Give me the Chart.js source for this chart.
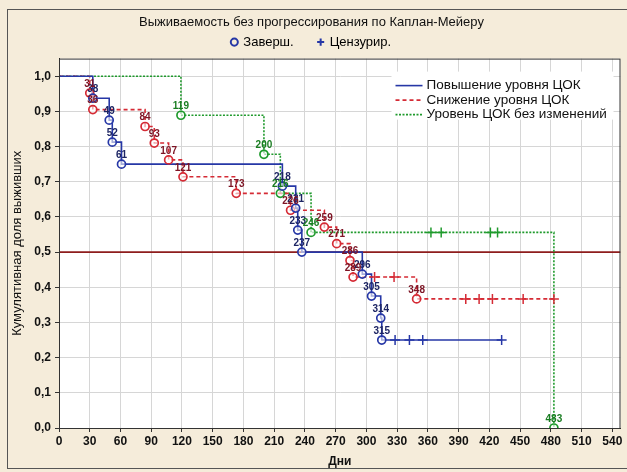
<!DOCTYPE html>
<html>
<head>
<meta charset="utf-8">
<script src="https://cdn.jsdelivr.net/npm/chart.js@4.4.0/dist/chart.umd.min.js"></script>
<style>
  html, body { margin: 0; padding: 0; background: #fff; }
  #wrap { position: relative; width: 627px; height: 472px; background: #f5ecda; overflow: hidden; }
  #frame { position: absolute; left: 7px; top: 9px; width: 630px; height: 458px; border: 1px solid #555; }
  #km { position: absolute; left: 0; top: 0; }
</style>
</head>
<body>
<div id="wrap">
  <div id="frame"></div>
  <canvas id="km" width="627" height="472"></canvas>
</div>
<script>
// ---------------------------------------------------------
// Данные (считаны с исходного графика)
// ---------------------------------------------------------
const seriesNames = ["Повышение уровня ЦОК", "Снижение уровня ЦОК", "Уровень ЦОК без изменений"];
const markerNames = ["Заверш.", "Цензурир."];

const xTickValues = [0, 30, 60, 90, 120, 150, 180, 210, 240, 270, 300, 330, 360, 390, 420, 450, 480, 510, 540];
const yTickValues = [0, 0.1, 0.2, 0.3, 0.4, 0.5, 0.6, 0.7, 0.8, 0.9, 1.0];
const refLevel = 0.5;

// Повышение уровня ЦОК
const upEventDays = [33, 49, 52, 61, 218, 231, 233, 237, 296, 305, 314, 315];
const upEventSurv = [0.9375, 0.875, 0.8125, 0.75, 0.6875, 0.625, 0.5625, 0.5, 0.4375, 0.375, 0.3125, 0.25];
const upEventLabels = ["38", "49", "52", "61", "218", "231", "233", "237", "296", "305", "314", "315"];
const upCensDays = [328, 342, 355, 432];
const upCensSurv = [0.25, 0.25, 0.25, 0.25];

// Снижение уровня ЦОК
const downEventDays = [30, 33, 84, 93, 107, 121, 173, 226, 259, 271, 284, 287, 349];
const downEventSurv = [0.952, 0.905, 0.857, 0.810, 0.762, 0.714, 0.667, 0.619, 0.571, 0.524, 0.476, 0.429, 0.367];
const downEventLabels = ["31", "36", "84", "93", "107", "121", "173", "226", "259", "271", "286", "289", "348"];
const downCensDays = [308, 327, 397, 410, 423, 453, 483];
const downCensSurv = [0.429, 0.429, 0.367, 0.367, 0.367, 0.367, 0.367];

// Уровень ЦОК без изменений
const sameEventDays = [119, 200, 216, 246, 483];
const sameEventSurv = [0.889, 0.778, 0.667, 0.556, 0];
const sameEventLabels = ["119", "200", "216", "246", "483"];
const sameCensDays = [363, 373, 421, 428];
const sameCensSurv = [0.556, 0.556, 0.556, 0.556];

// ---------------------------------------------------------
// Вспомогательное
// ---------------------------------------------------------
const pts = (xs, ys) => xs.map((x, i) => ({ x, y: ys[i] }));

function curve(evX, evY, cX, cY) {
  const all = pts(evX, evY).concat(pts(cX, cY)).sort((a, b) => a.x - b.x);
  return [{ x: 0, y: 1 }].concat(all);
}

const colors = {
  up: "#2637a6", down: "#d52b35", same: "#1f9a2c",
  upText: "#1c2463", downText: "#7d1424", sameText: "#1a7d22",
  ref: "#8e1d1d",
};
const dashes = [[], [4, 3], [2, 1.5]];
const lineColors = [colors.up, colors.down, colors.same];

function eventSet(evX, evY, labels, col, textCol) {
  return {
    type: "scatter", data: pts(evX, evY), pointLabels: labels, labelColor: textCol,
    pointStyle: "circle", pointRadius: 4, borderColor: col, borderWidth: 1.7,
    backgroundColor: "rgba(255,255,255,0.6)", order: 0,
  };
}
function censSet(cX, cY, col) {
  return {
    type: "scatter", data: pts(cX, cY), pointStyle: "cross", pointRadius: 5,
    borderColor: col, borderWidth: 1.5, order: 0,
  };
}
function lineSet(data, i) {
  return {
    type: "line", data, stepped: true, borderColor: lineColors[i], borderWidth: 1.6,
    borderDash: dashes[i], pointRadius: 0, fill: false, order: 1,
  };
}

// белый фон области построения
const plotBgPlugin = {
  id: "plotBg",
  beforeDraw(chart) {
    const { ctx, chartArea: a } = chart;
    ctx.save();
    ctx.fillStyle = "#fff";
    ctx.fillRect(a.left, a.top, a.right - a.left, a.bottom - a.top);
    ctx.restore();
  },
};

// подписи дней над кружками
const pointLabelPlugin = {
  id: "pointLabels",
  afterDatasetsDraw(chart) {
    const ctx = chart.ctx;
    ctx.save();
    ctx.font = "bold 10px 'Liberation Sans', Arial, sans-serif";
    ctx.textAlign = "center";
    ctx.textBaseline = "middle";
    chart.data.datasets.forEach((ds, i) => {
      if (!ds.pointLabels) return;
      ctx.fillStyle = ds.labelColor;
      chart.getDatasetMeta(i).data.forEach((p, j) => {
        ctx.fillText(ds.pointLabels[j], p.x, p.y - 9);
      });
    });
    ctx.restore();
  },
};

// рамка графика и легенда внутри области построения
const frameLegendPlugin = {
  id: "frameLegend",
  afterDraw(chart) {
    const { ctx, chartArea: a } = chart;
    ctx.save();
    ctx.strokeStyle = "#333";
    ctx.lineWidth = 1;
    ctx.strokeRect(a.left + 0.5, a.top + 0.5, a.right - a.left - 1, a.bottom - a.top);

    const lx = a.right - 225, ly = a.top + 15;
    ctx.fillStyle = "#fff";
    ctx.fillRect(lx - 4, ly - 2, 222, 48);
    ctx.font = "13.5px 'Liberation Sans', Arial, sans-serif";
    ctx.textBaseline = "middle";
    seriesNames.forEach((name, i) => {
      const y = ly + 12 + i * 14.5;
      ctx.strokeStyle = lineColors[i];
      ctx.lineWidth = 1.6;
      ctx.setLineDash(dashes[i]);
      ctx.beginPath();
      ctx.moveTo(lx, y);
      ctx.lineTo(lx + 27, y);
      ctx.stroke();
      ctx.setLineDash([]);
      ctx.fillStyle = "#111";
      ctx.fillText(name, lx + 31, y);
    });
    ctx.restore();
  },
};

const datasets = [
  eventSet(upEventDays, upEventSurv, upEventLabels, colors.up, colors.upText),
  eventSet(downEventDays, downEventSurv, downEventLabels, colors.down, colors.downText),
  eventSet(sameEventDays, sameEventSurv, sameEventLabels, colors.same, colors.sameText),
  censSet(upCensDays, upCensSurv, colors.up),
  censSet(downCensDays, downCensSurv, colors.down),
  censSet(sameCensDays, sameCensSurv, colors.same),
  lineSet(curve(upEventDays, upEventSurv, upCensDays, upCensSurv), 0),
  lineSet(curve(downEventDays, downEventSurv, downCensDays, downCensSurv), 1),
  lineSet(curve(sameEventDays, sameEventSurv, sameCensDays, sameCensSurv), 2),
  {
    type: "line", data: [{ x: 0, y: refLevel }, { x: 548, y: refLevel }],
    borderColor: colors.ref, borderWidth: 1.6, pointRadius: 0, order: 2,
  },
];

const font = "'Liberation Sans', Arial, sans-serif";

new Chart(document.getElementById("km"), {
  data: { datasets },
  plugins: [plotBgPlugin, pointLabelPlugin, frameLegendPlugin],
  options: {
    responsive: false,
    animation: false,
    layout: { padding: { left: 0, right: 4, top: 0, bottom: 0 } },
    plugins: {
      tooltip: { enabled: false },
      title: {
        display: true,
        text: "Выживаемость без прогрессирования по Каплан-Мейеру",
        color: "#111",
        font: { family: font, size: 13, weight: "normal" },
        padding: { top: 15, bottom: 0 },
      },
      legend: {
        display: true,
        position: "top",
        onClick: null,
        labels: {
          usePointStyle: true,
          boxWidth: 5,
          boxHeight: 5,
          padding: 5,
          color: "#111",
          font: { family: font, size: 13 },
          generateLabels: () => markerNames.map((t, i) => ({
            text: i === 0 ? t + "\u2003\u2002" : t,
            pointStyle: i === 0 ? "circle" : "cross",
            strokeStyle: colors.up,
            fillStyle: "rgba(0,0,0,0)",
            lineWidth: 2,
            hidden: false,
          })),
        },
      },
    },
    scales: {
      x: {
        type: "linear",
        min: 0,
        max: 548,
        afterBuildTicks: (s) => { s.ticks = xTickValues.map((v) => ({ value: v })); },
        afterFit: (s) => { s.height = 44; },
        ticks: { color: "#111", font: { family: font, size: 12, weight: "bold" }, padding: 2, maxRotation: 0, autoSkip: false },
        grid: { color: "#d6d6d6", tickColor: "#333", tickLength: 4 },
        border: { color: "#222", width: 1 },
        title: { display: true, text: "Дни", color: "#111", font: { family: font, size: 12, weight: "bold" }, padding: { top: 0, bottom: 3 } },
      },
      y: {
        type: "linear",
        min: 0,
        max: 1.05,
        afterBuildTicks: (s) => { s.ticks = yTickValues.map((v) => ({ value: v })); },
        afterFit: (s) => { s.width = 59; },
        ticks: {
          color: "#111", font: { family: font, size: 12, weight: "bold" }, padding: 4, autoSkip: false,
          callback: (v) => v.toFixed(1).replace(".", ","),
        },
        grid: { color: "#d6d6d6", tickColor: "#333", tickLength: 4 },
        border: { color: "#222", width: 1 },
        title: { display: true, text: "Кумулятивная доля выживших", color: "#111", font: { family: font, size: 13 }, padding: { top: 10, bottom: 0 } },
      },
    },
  },
});
</script>
</body>
</html>
